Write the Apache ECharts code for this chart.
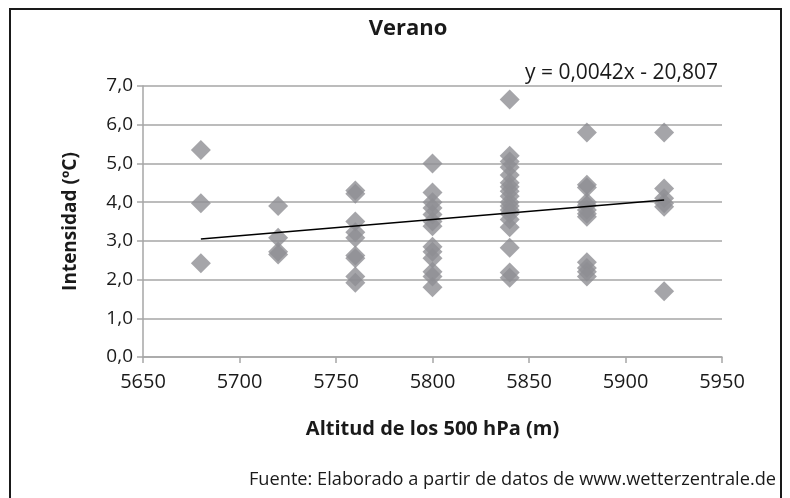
<!DOCTYPE html>
<html>
<head>
<meta charset="utf-8">
<script src="https://cdn.jsdelivr.net/npm/echarts@6/dist/echarts.min.js"></script>
<style>
  html, body { margin: 0; padding: 0; background: #fff; }
  #chart { width: 790px; height: 498px; }
</style>
</head>
<body>
<div id="chart"></div>
<script>
// Altitud de los 500 hPa (m) y la intensidad (ºC) observada en cada caso
const alt5680 = [5.35, 3.97, 2.42];
const alt5720 = [3.9, 3.08, 2.72, 2.65];
const alt5760 = [4.3, 4.22, 3.5, 3.22, 3.08, 2.62, 2.55, 2.08, 1.92];
const alt5800 = [5.0, 4.25, 4.0, 3.85, 3.68, 3.5, 3.38, 2.85, 2.72, 2.55, 2.2, 2.08, 1.8];
const alt5840 = [6.65, 5.2, 5.05, 4.9, 4.7, 4.5, 4.4, 4.28, 4.15, 4.0, 3.9, 3.8, 3.7, 3.55, 3.35, 2.82, 2.18, 2.05];
const alt5880 = [5.8, 4.45, 4.38, 4.0, 3.92, 3.8, 3.7, 3.62, 2.45, 2.3, 2.2, 2.08];
const alt5920 = [5.8, 4.35, 4.1, 3.97, 3.88, 1.7];

const altitudes = [5680, 5720, 5760, 5800, 5840, 5880, 5920];
const intensities = [alt5680, alt5720, alt5760, alt5800, alt5840, alt5880, alt5920];

const xTicks = [5650, 5700, 5750, 5800, 5850, 5900, 5950];
const yTicks = [0, 1, 2, 3, 4, 5, 6, 7];

// Recta de tendencia lineal según la ecuación indicada
const trendSlope = 0.0042;
const trendIntercept = -20.807;

const titleText = 'Verano';
const xName = 'Altitud de los 500 hPa (m)';
const yName = 'Intensidad (ºC)';
const equationText = 'y = 0,0042x - 20,807';
const sourceText = 'Fuente: Elaborado a partir de datos de www.wetterzentrale.de';

// Pares (x, y) para la dispersión
const points = [];
altitudes.forEach((a, i) => intensities[i].forEach(v => points.push([a, v])));

const xMin = Math.min(...altitudes), xMax = Math.max(...altitudes);
const trend = [xMin, xMax].map(x => [x, trendSlope * x + trendIntercept]);

const FONT = '"Open Sans", sans-serif';
const TEXT = '#1a1a1a';
const GRID_COLOR = '#a6a6a6';

const chart = echarts.init(document.getElementById('chart'), null, { renderer: 'canvas' });
chart.setOption({
  animation: false,
  backgroundColor: '#ffffff',
  title: {
    text: titleText,
    left: 403, top: 13, textAlign: 'center',
    textStyle: { fontFamily: FONT, fontSize: 22, fontWeight: 'bold', color: TEXT }
  },
  grid: { left: 143, top: 86, width: 579, height: 271, containLabel: false },
  xAxis: {
    type: 'value',
    min: xTicks[0], max: xTicks[xTicks.length - 1], interval: 50,
    name: xName, nameLocation: 'middle', nameGap: 62,
    nameTextStyle: { fontFamily: FONT, fontSize: 20, fontWeight: 'bold', color: TEXT },
    axisLine: { show: true, lineStyle: { color: GRID_COLOR, width: 1.5 } },
    axisTick: { show: true, length: 6, lineStyle: { color: GRID_COLOR, width: 1.5 } },
    axisLabel: { fontFamily: FONT, fontSize: 20, color: TEXT, margin: 15, formatter: v => String(v) },
    splitLine: { show: false }
  },
  yAxis: {
    type: 'value',
    min: yTicks[0], max: yTicks[yTicks.length - 1], interval: 1,
    name: yName, nameLocation: 'middle', nameGap: 63, nameRotate: 90,
    nameTextStyle: { fontFamily: FONT, fontSize: 19, fontWeight: 'bold', color: TEXT },
    axisLine: { show: true, lineStyle: { color: GRID_COLOR, width: 1.5 } },
    axisTick: { show: true, length: 6, lineStyle: { color: GRID_COLOR, width: 1.5 } },
    axisLabel: {
      fontFamily: FONT, fontSize: 19, color: TEXT, margin: 10,
      formatter: v => v.toFixed(1).replace('.', ',')
    },
    splitLine: { show: true, lineStyle: { color: GRID_COLOR, width: 1.5 } }
  },
  series: [
    {
      type: 'scatter',
      data: points,
      symbol: 'diamond',
      symbolSize: 20,
      itemStyle: { color: '#8e8f93' },
      z: 2
    },
    {
      type: 'line',
      data: trend,
      symbol: 'none',
      lineStyle: { color: '#000000', width: 1.5 },
      z: 3
    }
  ],
  graphic: [
    {
      type: 'rect',
      shape: { x: 10, y: 9, width: 771, height: 520 },
      style: { fill: 'none', stroke: '#1a1a1a', lineWidth: 2 },
      silent: true
    },
    {
      type: 'text',
      right: 72, top: 63,
      style: { text: equationText, fontFamily: FONT, fontSize: 21, fill: TEXT }
    },
    {
      type: 'text',
      right: 14, top: 471,
      style: { text: sourceText, fontFamily: FONT, fontSize: 18.2, fill: TEXT }
    }
  ]
});
</script>
</body>
</html>
